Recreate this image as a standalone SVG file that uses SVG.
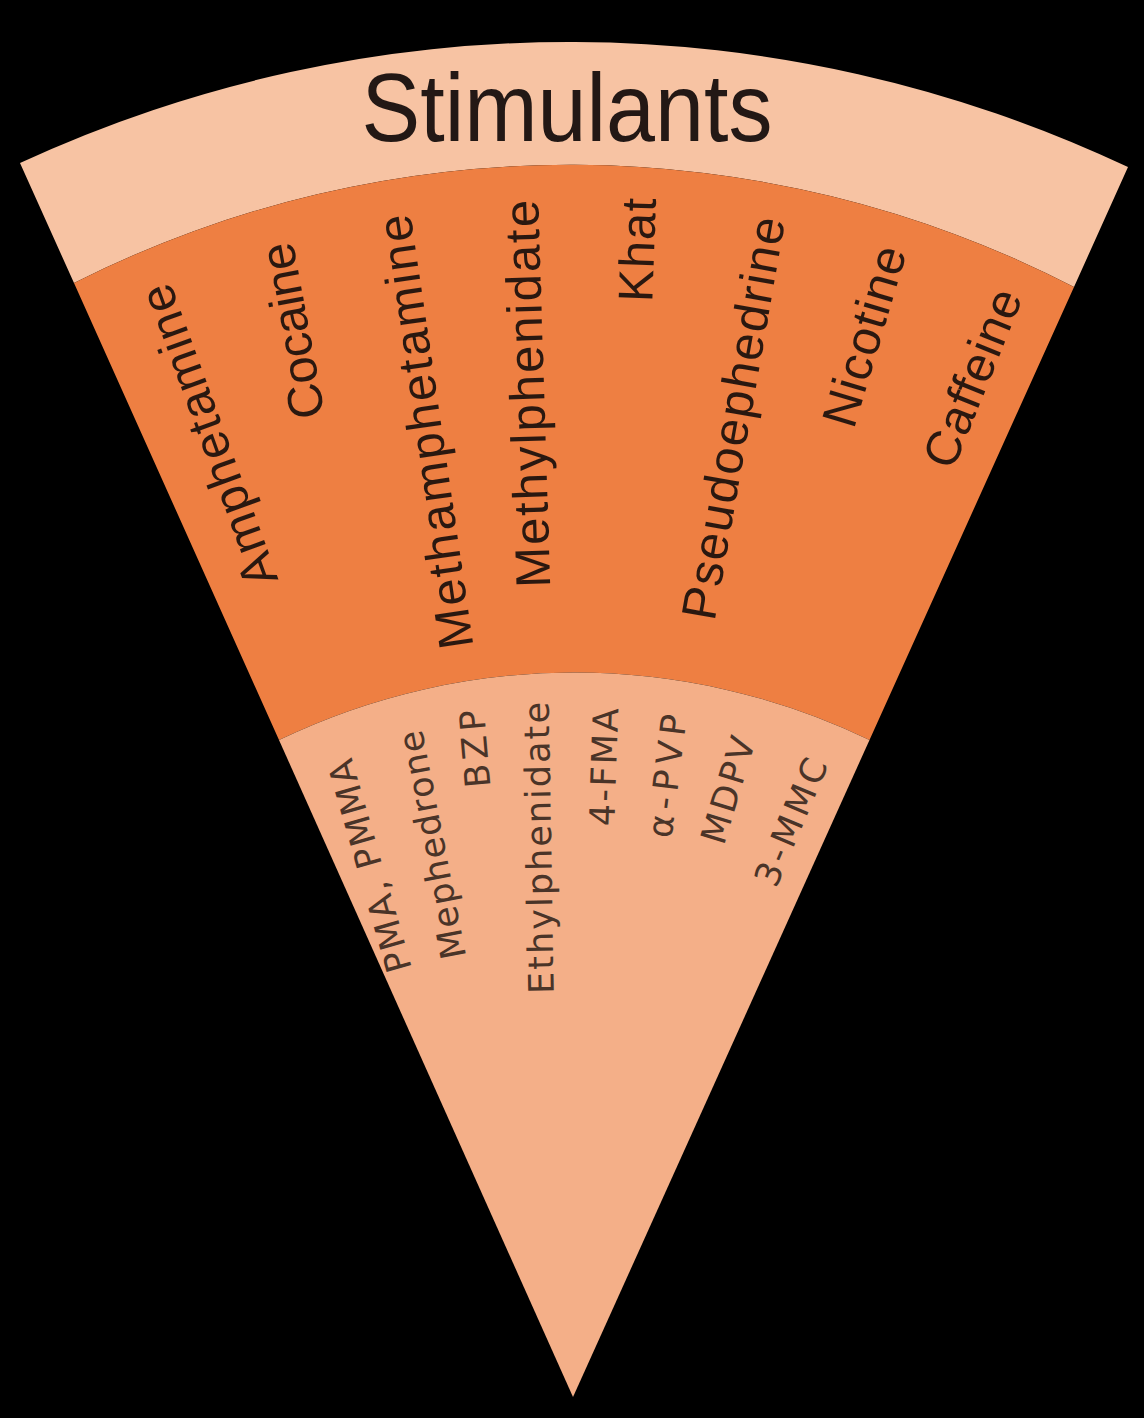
<svg xmlns="http://www.w3.org/2000/svg" width="1144" height="1418" viewBox="0 0 1144 1418">
<style>
.title{font-family:"Liberation Sans",Arial,sans-serif;font-size:96px;fill:#231815}
.main{font-family:"Liberation Sans",Arial,sans-serif;font-size:49px;fill:#2a1810;text-anchor:middle}
.sub{font-family:"DejaVu Sans",sans-serif;font-size:35px;fill:#4a3428;text-anchor:middle}
</style>
<rect width="1144" height="1418" fill="#000"/>
<g id="slice">
<path id="band-outer" d="M20,163 A1309,1309 0 0 1 1128,167 L1074,287 A1100,1100 0 0 0 74,283 Z" fill="#F7C3A3"/>
<path id="band-middle" d="M74,283 A1100,1100 0 0 1 1074,287 L869.5,740 A680,680 0 0 0 279,740 Z" fill="#EE7F42"/>
<path id="band-inner" d="M279,740 A680,680 0 0 1 869.5,740 L573,1397 Z" fill="#F4AF88"/>
</g>
<g id="title"><text class="title" x="567" y="141" text-anchor="middle" textLength="411" lengthAdjust="spacingAndGlyphs">Stimulants</text></g>
<g id="main-labels">
<g id="amphetamine" transform="translate(208,436) rotate(-110)"><text class="main" dy="0.35em" textLength="318">Amphetamine</text></g>
<g id="cocaine" transform="translate(292,331) rotate(-100.5)"><text class="main" dy="0.35em" textLength="178">Cocaine</text></g>
<g id="methamphetamine" transform="translate(425,432) rotate(-98.3)"><text class="main" dy="0.35em" textLength="438">Methamphetamine</text></g>
<g id="methylphenidate" transform="translate(527,394) rotate(-91.8)"><text class="main" dy="0.35em" textLength="388">Methylphenidate</text></g>
<g id="khat" transform="translate(637,250) rotate(-88)"><text class="main" dy="0.35em" textLength="104">Khat</text></g>
<g id="pseudoephedrine" transform="translate(733,418) rotate(-80)"><text class="main" dy="0.35em" textLength="408">Pseudoephedrine</text></g>
<g id="nicotine" transform="translate(864,336) rotate(-73.4)"><text class="main" dy="0.35em" textLength="186">Nicotine</text></g>
<g id="caffeine" transform="translate(972,378) rotate(-68)"><text class="main" dy="0.35em" textLength="188">Caffeine</text></g>
</g>
<g id="sub-labels">
<g id="pma" transform="translate(370,866) rotate(-106)"><text class="sub" dy="0.35em" textLength="220">PMA, PMMA</text></g>
<g id="mephedrone" transform="translate(432,845) rotate(-101)"><text class="sub" dy="0.35em" textLength="232">Mephedrone</text></g>
<g id="bzp" transform="translate(475,749) rotate(-95)"><text class="sub" dy="0.35em" textLength="78">BZP</text></g>
<g id="ethylphenidate" transform="translate(539,848) rotate(-91)"><text class="sub" dy="0.35em" textLength="292">Ethylphenidate</text></g>
<g id="fma" transform="translate(604,767) rotate(-88)"><text class="sub" dy="0.35em" textLength="118">4-FMA</text></g>
<g id="apvp" transform="translate(667,776) rotate(-83)"><text class="sub" dy="0.35em" textLength="124">α-PVP</text></g>
<g id="mdpv" transform="translate(728,790) rotate(-73)"><text class="sub" dy="0.35em" textLength="110">MDPV</text></g>
<g id="mmc" transform="translate(791,822) rotate(-67)"><text class="sub" dy="0.35em" textLength="135">3-MMC</text></g>
</g>
<g id="connectors"/>
</svg>
